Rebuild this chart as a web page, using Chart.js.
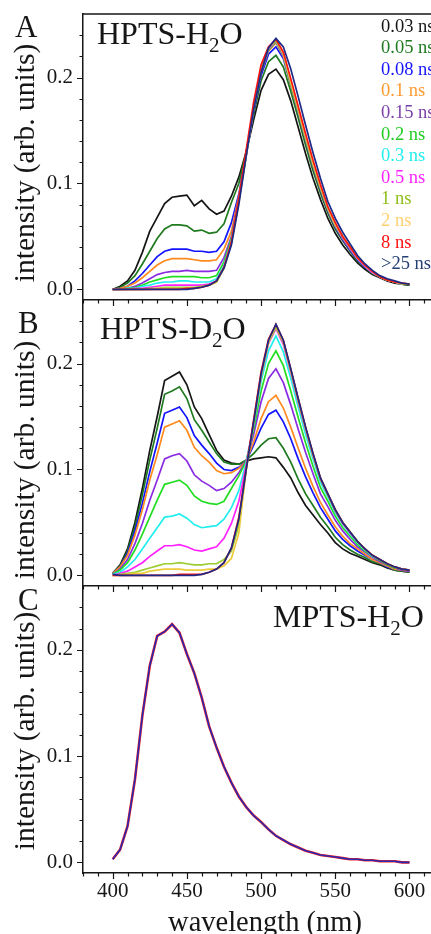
<!DOCTYPE html>
<html>
<head>
<meta charset="utf-8">
<title>HPTS / MPTS time-resolved emission</title>
<script src="https://cdn.jsdelivr.net/npm/chart.js@4.4.0/dist/chart.umd.min.js"></script>
<style>
  html, body { margin: 0; padding: 0; background: #fff; }
  #wrap { position: relative; width: 431px; height: 934px; overflow: hidden; }
  canvas { position: absolute; left: 0; }
</style>
</head>
<body>
<div id="wrap">
  <canvas id="panelA" width="431" height="310" style="top:0px"></canvas>
  <canvas id="panelB" width="431" height="306" style="top:290px"></canvas>
  <canvas id="panelC" width="431" height="358" style="top:576px"></canvas>
</div>
<script>
// wavelength grid (nm)
const wavelengths = [400,405,410,415,420,425,430,435,440,445,
                     450,455,460,465,470,475,480,485,490,495,
                     500,505,510,515,520,525,530,535,540,545,
                     550,555,560,565,570,575,580,585,590,595,600];

const seriesLabels = ["0.03 ns","0.05 ns","0.08 ns","0.1 ns","0.15 ns","0.2 ns",
                      "0.3 ns","0.5 ns","1 ns","2 ns","8 ns",">25 ns"];
const seriesColors = ["#151515","#1f7a1f","#1414ff","#ff8a1e","#8a2be2","#22dd22",
                      "#22eeee","#ff22ff","#9acd32","#eccb3c","#ff1111","#1c2a86"];
const legendColors = ["#151515","#1f7a1f","#1414ff","#ff9a30","#7b3fa8","#22cc22",
                      "#22eeee","#ff22ff","#8fbf1a","#ffd070","#ff1111","#243f74"];

const xTickValues = [400, 450, 500, 550, 600];
const xTickLabels = ["400", "450", "500", "550", "600"];
const yTickValues = [0, 0.1, 0.2];
const yTickLabels = ["0.0", "0.1", "0.2"];

// panel A: HPTS in H2O
const h2o_0p03 = [0.000,0.003,0.008,0.018,0.035,0.055,0.068,0.081,0.087,0.088,
  0.089,0.079,0.084,0.076,0.071,0.074,0.088,0.106,0.130,0.160,
  0.188,0.203,0.208,0.198,0.178,0.153,0.128,0.105,0.085,0.067,
  0.053,0.042,0.033,0.025,0.019,0.014,0.011,0.008,0.006,0.005,0.004];
const h2o_0p05 = [0.000,0.002,0.006,0.013,0.024,0.036,0.048,0.057,0.061,0.061,
  0.060,0.055,0.056,0.053,0.054,0.062,0.082,0.100,0.130,0.165,
  0.197,0.215,0.221,0.210,0.187,0.162,0.136,0.112,0.091,0.072,
  0.057,0.046,0.036,0.027,0.021,0.015,0.012,0.009,0.007,0.005,0.004];
const h2o_0p08 = [0.000,0.001,0.003,0.008,0.015,0.023,0.031,0.036,0.038,0.038,
  0.038,0.036,0.036,0.035,0.036,0.045,0.063,0.090,0.128,0.168,
  0.202,0.222,0.229,0.218,0.193,0.167,0.141,0.116,0.094,0.074,
  0.059,0.047,0.037,0.028,0.021,0.016,0.012,0.009,0.007,0.005,0.005];
const h2o_0p1 = [0.000,0.001,0.003,0.006,0.011,0.017,0.023,0.027,0.029,0.029,
  0.029,0.028,0.027,0.027,0.028,0.038,0.055,0.088,0.128,0.170,
  0.205,0.225,0.233,0.220,0.193,0.168,0.142,0.117,0.095,0.075,
  0.060,0.048,0.038,0.029,0.022,0.016,0.012,0.009,0.007,0.005,0.005];
const h2o_0p15 = [0.000,0.000,0.001,0.003,0.006,0.010,0.014,0.016,0.017,0.017,
  0.018,0.017,0.017,0.017,0.018,0.030,0.050,0.086,0.127,0.170,
  0.206,0.226,0.234,0.221,0.194,0.169,0.143,0.118,0.096,0.076,
  0.060,0.048,0.038,0.029,0.022,0.016,0.012,0.009,0.007,0.005,0.005];
const h2o_0p2 = [0.000,0.000,0.001,0.002,0.004,0.007,0.009,0.011,0.012,0.012,
  0.012,0.012,0.011,0.011,0.013,0.026,0.048,0.085,0.127,0.171,
  0.206,0.226,0.234,0.221,0.194,0.169,0.143,0.118,0.096,0.076,
  0.061,0.049,0.039,0.029,0.022,0.016,0.012,0.009,0.007,0.005,0.005];
const h2o_0p3 = [0.000,0.000,0.001,0.001,0.003,0.004,0.006,0.007,0.007,0.008,
  0.008,0.007,0.007,0.007,0.010,0.023,0.046,0.084,0.127,0.171,
  0.207,0.227,0.235,0.222,0.196,0.170,0.144,0.119,0.097,0.077,
  0.061,0.049,0.039,0.029,0.022,0.016,0.012,0.009,0.007,0.005,0.005];
const h2o_0p5 = [0.000,0.000,0.000,0.001,0.001,0.002,0.003,0.004,0.004,0.004,
  0.004,0.004,0.004,0.005,0.008,0.021,0.045,0.084,0.127,0.171,
  0.207,0.227,0.235,0.222,0.196,0.170,0.144,0.119,0.097,0.077,
  0.061,0.049,0.039,0.029,0.022,0.016,0.012,0.009,0.007,0.005,0.005];
const h2o_1 = [0.000,0.000,0.000,0.000,0.000,0.001,0.001,0.002,0.002,0.002,
  0.002,0.002,0.003,0.004,0.007,0.020,0.044,0.083,0.127,0.172,
  0.208,0.228,0.235,0.223,0.196,0.170,0.144,0.119,0.097,0.077,
  0.061,0.050,0.040,0.030,0.023,0.017,0.012,0.009,0.007,0.005,0.005];
const h2o_2 = [0.000,0.000,0.000,0.000,0.000,0.000,0.001,0.001,0.001,0.001,
  0.001,0.001,0.002,0.004,0.007,0.020,0.044,0.083,0.127,0.172,
  0.208,0.228,0.236,0.223,0.196,0.170,0.144,0.119,0.097,0.077,
  0.061,0.050,0.040,0.030,0.023,0.017,0.012,0.009,0.007,0.006,0.005];
const h2o_8 = [0.000,0.000,0.000,0.000,0.000,0.000,0.000,0.000,0.000,0.000,
  0.001,0.001,0.002,0.004,0.008,0.021,0.045,0.086,0.132,0.177,
  0.212,0.229,0.236,0.224,0.199,0.173,0.147,0.122,0.099,0.078,
  0.063,0.050,0.040,0.030,0.023,0.017,0.012,0.009,0.007,0.006,0.005];
const h2o_25 = [0.000,0.000,0.000,0.000,0.000,0.000,0.000,0.000,0.000,0.000,
  0.000,0.001,0.002,0.004,0.008,0.020,0.042,0.080,0.126,0.170,
  0.205,0.228,0.237,0.229,0.208,0.182,0.155,0.129,0.105,0.083,
  0.067,0.054,0.043,0.032,0.024,0.018,0.013,0.010,0.008,0.006,0.005];

// panel B: HPTS in D2O
const d2o_0p03 = [0.002,0.010,0.025,0.050,0.082,0.118,0.150,0.184,0.188,0.192,
  0.180,0.159,0.148,0.133,0.118,0.109,0.106,0.105,0.108,0.110,
  0.111,0.112,0.111,0.102,0.092,0.078,0.066,0.057,0.048,0.040,
  0.031,0.025,0.021,0.018,0.015,0.012,0.010,0.007,0.005,0.004,0.003];
const d2o_0p05 = [0.002,0.009,0.023,0.046,0.076,0.109,0.139,0.171,0.174,0.178,
  0.167,0.147,0.137,0.126,0.115,0.107,0.105,0.105,0.109,0.115,
  0.123,0.129,0.130,0.120,0.107,0.091,0.077,0.066,0.055,0.046,
  0.036,0.029,0.024,0.020,0.017,0.013,0.011,0.008,0.005,0.004,0.003];
const d2o_0p08 = [0.002,0.008,0.021,0.042,0.068,0.098,0.125,0.153,0.156,0.159,
  0.149,0.132,0.123,0.115,0.106,0.100,0.099,0.102,0.108,0.123,
  0.139,0.152,0.156,0.145,0.129,0.110,0.093,0.078,0.064,0.053,
  0.042,0.034,0.028,0.023,0.019,0.015,0.012,0.008,0.006,0.005,0.004];
const d2o_0p1 = [0.002,0.008,0.019,0.038,0.062,0.090,0.114,0.140,0.143,0.146,
  0.137,0.121,0.113,0.107,0.099,0.096,0.097,0.101,0.108,0.126,
  0.148,0.164,0.170,0.158,0.140,0.120,0.101,0.084,0.069,0.057,
  0.046,0.037,0.030,0.025,0.020,0.015,0.012,0.009,0.006,0.005,0.004];
const d2o_0p15 = [0.001,0.006,0.015,0.030,0.049,0.071,0.090,0.110,0.113,0.115,
  0.108,0.095,0.089,0.085,0.080,0.082,0.088,0.097,0.108,0.133,
  0.164,0.186,0.195,0.182,0.161,0.138,0.116,0.096,0.077,0.065,
  0.052,0.042,0.034,0.027,0.022,0.017,0.013,0.010,0.007,0.005,0.004];
const d2o_0p2 = [0.001,0.005,0.012,0.024,0.039,0.055,0.071,0.086,0.088,0.090,
  0.085,0.075,0.070,0.068,0.067,0.070,0.082,0.094,0.108,0.138,
  0.174,0.200,0.212,0.198,0.174,0.149,0.125,0.103,0.083,0.070,
  0.056,0.045,0.037,0.029,0.023,0.018,0.014,0.010,0.007,0.006,0.005];
const d2o_0p3 = [0.001,0.003,0.008,0.015,0.025,0.035,0.045,0.055,0.056,0.058,
  0.054,0.048,0.045,0.046,0.047,0.053,0.064,0.080,0.107,0.142,
  0.183,0.212,0.226,0.211,0.186,0.159,0.133,0.110,0.088,0.074,
  0.059,0.048,0.039,0.031,0.024,0.018,0.015,0.011,0.008,0.006,0.005];
const d2o_0p5 = [0.000,0.002,0.004,0.008,0.012,0.018,0.023,0.028,0.028,0.029,
  0.027,0.024,0.023,0.025,0.027,0.035,0.049,0.070,0.104,0.144,
  0.188,0.219,0.233,0.218,0.192,0.164,0.138,0.113,0.091,0.076,
  0.061,0.049,0.040,0.032,0.025,0.019,0.015,0.011,0.008,0.006,0.005];
const d2o_1 = [0.000,0.001,0.002,0.003,0.005,0.007,0.009,0.011,0.011,0.012,
  0.011,0.010,0.010,0.011,0.011,0.015,0.023,0.047,0.100,0.144,
  0.188,0.220,0.234,0.220,0.193,0.165,0.139,0.114,0.091,0.076,
  0.061,0.050,0.041,0.032,0.025,0.019,0.015,0.011,0.008,0.006,0.005];
const d2o_2 = [0.000,0.000,0.001,0.002,0.002,0.004,0.005,0.006,0.006,0.006,
  0.005,0.005,0.005,0.006,0.006,0.009,0.016,0.040,0.100,0.145,
  0.189,0.221,0.236,0.221,0.194,0.166,0.139,0.114,0.092,0.077,
  0.062,0.050,0.041,0.032,0.025,0.019,0.015,0.011,0.008,0.006,0.005];
const d2o_8 = [0.000,0.000,0.000,0.000,0.000,0.000,0.000,0.000,0.000,0.001,
  0.001,0.001,0.001,0.003,0.006,0.012,0.026,0.055,0.101,0.147,
  0.192,0.223,0.237,0.222,0.195,0.167,0.140,0.115,0.092,0.077,
  0.062,0.050,0.041,0.032,0.025,0.019,0.015,0.011,0.008,0.006,0.005];
const d2o_25 = [0.001,0.000,0.000,0.000,0.000,0.000,0.000,0.000,0.000,0.000,
  0.000,0.000,0.001,0.003,0.006,0.012,0.026,0.053,0.100,0.145,
  0.190,0.222,0.237,0.222,0.195,0.167,0.140,0.115,0.092,0.077,
  0.062,0.050,0.041,0.032,0.025,0.019,0.015,0.011,0.008,0.006,0.005];

// panel C: MPTS in H2O (all delays overlap)
const mpts = [0.003,0.012,0.034,0.078,0.138,0.185,0.213,0.217,0.224,0.216,
  0.196,0.178,0.155,0.128,0.108,0.090,0.075,0.062,0.052,0.044,
  0.038,0.031,0.025,0.021,0.017,0.014,0.011,0.009,0.007,0.006,
  0.005,0.004,0.003,0.003,0.002,0.002,0.001,0.001,0.001,0.000,0.000];
const mptsColors = ["#ff2020", "#2828b0"];
const mptsWidths = [2.6, 1.6];

const h2oSeries = [h2o_0p03,h2o_0p05,h2o_0p08,h2o_0p1,h2o_0p15,h2o_0p2,
                   h2o_0p3,h2o_0p5,h2o_1,h2o_2,h2o_8,h2o_25];
const d2oSeries = [d2o_0p03,d2o_0p05,d2o_0p08,d2o_0p1,d2o_0p15,d2o_0p2,
                   d2o_0p3,d2o_0p5,d2o_1,d2o_2,d2o_8,d2o_25];

const SERIF = "'Liberation Serif', 'Times New Roman', serif";
const INK = "#161616";

// letters, formula titles, axis titles, legend, minor ticks
const panelDecor = {
  id: "panelDecor",
  afterDraw(chart, args, o) {
    const { ctx, chartArea } = chart;
    const xs = chart.scales.x, ys = chart.scales.y;
    ctx.save();
    ctx.strokeStyle = INK;
    ctx.lineWidth = 1.2;
    ctx.beginPath();
    for (let v = 380; v <= 610; v += 10) {
      const px = Math.round(xs.getPixelForValue(v)) + 0.5;
      const len = v % 50 === 0 ? 6 : 3.5;
      ctx.moveTo(px, xs.top);
      ctx.lineTo(px, xs.top + len);
    }
    for (let k = 0; k <= 12; k++) {
      const py = Math.round(ys.getPixelForValue(k * 0.02)) + 0.5;
      const len = k % 5 === 0 ? 6 : 3.5;
      ctx.moveTo(ys.right, py);
      ctx.lineTo(ys.right - len, py);
    }
    ctx.stroke();

    if (o.topBorder) {
      ctx.lineWidth = 1.5;
      ctx.beginPath();
      ctx.moveTo(chartArea.left, chartArea.top);
      ctx.lineTo(chartArea.right, chartArea.top);
      ctx.stroke();
    }

    ctx.fillStyle = INK;
    ctx.textAlign = "left";
    ctx.textBaseline = "alphabetic";
    ctx.font = "31px " + SERIF;
    ctx.fillText(o.letter, o.letterX, o.letterY);

    let x = o.titleX;
    o.title.forEach((part, i) => {
      const sub = i === 1;
      ctx.font = (sub ? "21px " : "32px ") + SERIF;
      ctx.fillText(part, x, o.titleY + (sub ? 8 : 0));
      x += ctx.measureText(part).width;
    });

    if (o.legend) {
      ctx.font = "18.5px " + SERIF;
      seriesLabels.forEach((lab, i) => {
        ctx.fillStyle = legendColors[i];
        ctx.fillText(lab, 381, 31.5 + i * 21.6);
      });
    }

    // y axis title
    ctx.save();
    ctx.fillStyle = INK;
    ctx.font = "29.5px " + SERIF;
    ctx.textAlign = "center";
    ctx.textBaseline = "middle";
    ctx.translate(26, o.yTitleY);
    ctx.rotate(-Math.PI / 2);
    ctx.fillText("intensity (arb. units)", 0, 0);
    ctx.restore();

    if (o.xTitle) {
      ctx.fillStyle = INK;
      ctx.font = "28.5px " + SERIF;
      ctx.textAlign = "center";
      ctx.fillText(o.xTitle, 265, 355);
    }
    ctx.restore();
  }
};

function makePanel(id, datasets, cfg) {
  return new Chart(document.getElementById(id), {
    type: "line",
    data: { datasets },
    options: {
      responsive: false,
      animation: false,
      devicePixelRatio: 1,
      layout: { padding: { top: cfg.padTop, left: 0, right: 0, bottom: 0 }, autoPadding: false },
      plugins: { legend: { display: false }, tooltip: { enabled: false }, panelDecor: cfg.decor },
      scales: {
        x: {
          type: "linear",
          min: 380,
          max: 614.5,
          grid: { display: false, drawTicks: true, tickLength: 6 },
          border: { display: true, color: INK, width: 1.5 },
          ticks: {
            display: cfg.showX,
            font: { family: SERIF, size: 21 },
            color: INK,
            padding: 0,
            callback: (v, i) => xTickLabels[i]
          },
          afterBuildTicks: s => { s.ticks = xTickValues.map(v => ({ value: v })); },
          afterFit: s => { s.height = cfg.xHeight; s.paddingLeft = 0; s.paddingRight = 0; }
        },
        y: {
          min: -0.01,
          max: 0.26,
          grid: { display: false, drawTicks: true, tickLength: 6 },
          border: { display: true, color: INK, width: 1.5 },
          ticks: {
            font: { family: SERIF, size: 21 },
            color: INK,
            padding: 4,
            callback: (v, i) => yTickLabels[i]
          },
          afterBuildTicks: s => { s.ticks = yTickValues.map(v => ({ value: v })); },
          afterFit: s => { s.width = 83; s.paddingTop = 0; s.paddingBottom = 0; }
        }
      }
    },
    plugins: [panelDecor]
  });
}

function spectra(series) {
  return series.map((vals, i) => ({
    label: seriesLabels[i],
    data: vals.map((v, k) => ({ x: wavelengths[k], y: v })),
    borderColor: seriesColors[i],
    borderWidth: 1.7,
    pointRadius: 0,
    tension: 0,
    fill: false,
    order: series.length - i
  }));
}

makePanel("panelA", spectra(h2oSeries), {
  padTop: 14, xHeight: 10, showX: false,
  decor: { letter: "A", letterX: 15, letterY: 37, title: ["HPTS-H", "2", "O"],
           titleX: 97, titleY: 44, legend: true, topBorder: true, yTitleY: 163 }
});

makePanel("panelB", spectra(d2oSeries), {
  padTop: 10, xHeight: 10, showX: false,
  decor: { letter: "B", letterX: 18, letterY: 43, title: ["HPTS-D", "2", "O"],
           titleX: 100, titleY: 49, yTitleY: 170 }
});

makePanel("panelC", mptsColors.map((c, i) => ({
  label: "MPTS",
  data: mpts.map((v, k) => ({ x: wavelengths[k], y: v })),
  borderColor: c,
  borderWidth: mptsWidths[i],
  pointRadius: 0,
  tension: 0,
  fill: false,
  order: mptsColors.length - i
})), {
  padTop: 10, xHeight: 61, showX: true,
  decor: { letter: "C", letterX: 18, letterY: 34, title: ["MPTS-H", "2", "O"],
           titleX: 273, titleY: 51, xTitle: "wavelength (nm)", yTitleY: 155 }
});
</script>
</body>
</html>
